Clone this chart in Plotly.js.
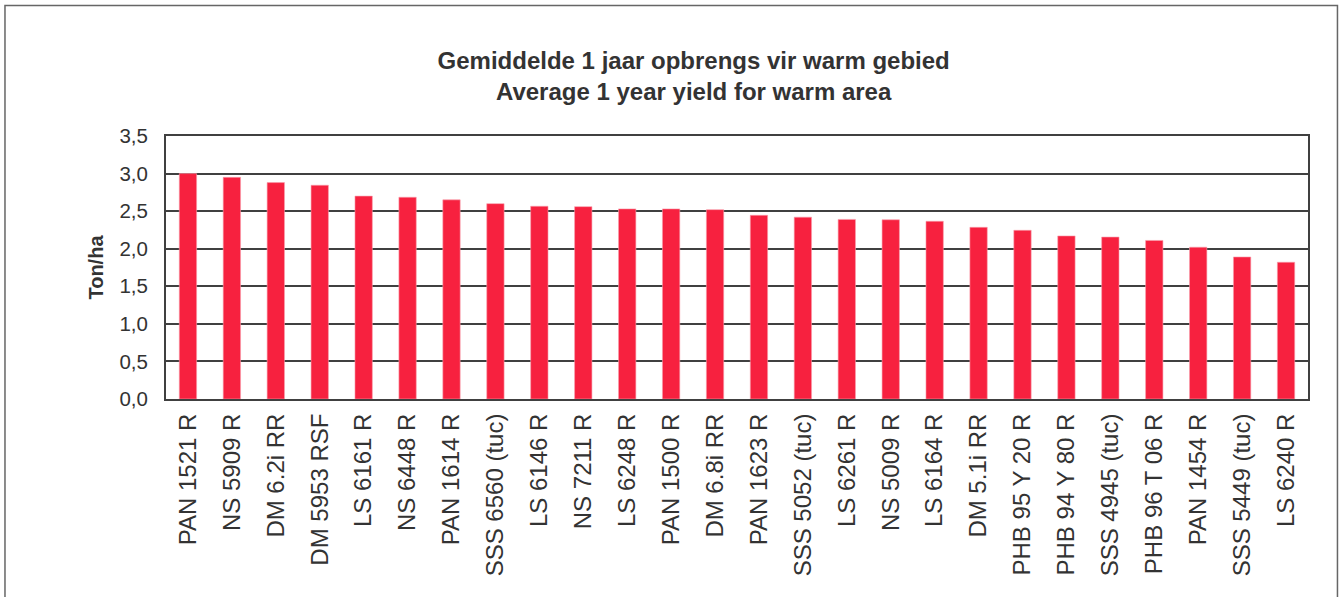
<!DOCTYPE html>
<html>
<head>
<meta charset="utf-8">
<script src="https://cdn.plot.ly/plotly-3.0.1.min.js"></script>
<style>
  html, body { margin: 0; padding: 0; background: #fff; }
  #chart { width: 1343px; height: 597px; }
</style>
</head>
<body>
<div id="chart"></div>
<script>
// cultivars, sorted by yield
const cultivars = [
  'PAN 1521 R', 'NS 5909 R', 'DM 6.2i RR', 'DM 5953 RSF', 'LS 6161 R', 'NS 6448 R',
  'PAN 1614 R', 'SSS 6560 (tuc)', 'LS 6146 R', 'NS 7211 R', 'LS 6248 R', 'PAN 1500 R',
  'DM 6.8i RR', 'PAN 1623 R', 'SSS 5052 (tuc)', 'LS 6261 R', 'NS 5009 R', 'LS 6164 R',
  'DM 5.1i RR', 'PHB 95 Y 20 R', 'PHB 94 Y 80 R', 'SSS 4945 (tuc)', 'PHB 96 T 06 R',
  'PAN 1454 R', 'SSS 5449 (tuc)', 'LS 6240 R'
];
const yieldTonHa = [
  3.00, 2.95, 2.88, 2.845, 2.70, 2.685,
  2.65, 2.60, 2.565, 2.56, 2.53, 2.53,
  2.52, 2.445, 2.42, 2.39, 2.385, 2.365,
  2.285, 2.245, 2.17, 2.155, 2.11,
  2.02, 1.89, 1.82
];
const yTicks = [0, 0.5, 1, 1.5, 2, 2.5, 3, 3.5];

const textColor = '#333333';
const lineColor = '#404040';

const trace = {
  type: 'bar',
  x: cultivars,
  y: yieldTonHa,
  marker: { color: '#F7213F', line: { color: '#F9A0AC', width: 0.6 } },
  hoverinfo: 'x+y'
};

const layout = {
  width: 1343,
  height: 597,
  margin: { l: 166, r: 35, t: 136, b: 198 },
  paper_bgcolor: '#fff',
  plot_bgcolor: '#fff',
  separators: ', ',
  font: { family: 'Liberation Sans, Arial, sans-serif', color: textColor },
  bargap: 0.605,
  showlegend: false,
  title: {
    text: '<b>Gemiddelde 1 jaar opbrengs vir warm gebied<br>Average 1 year yield for warm area</b>',
    font: { size: 24, color: textColor },
    xref: 'container', x: 0.5165, xanchor: 'center',
    yref: 'container', y: 0.885, yanchor: 'middle'
  },
  xaxis: {
    type: 'category',
    tickangle: -90,
    tickfont: { size: 24, color: textColor },
    ticks: '',
    ticklabelstandoff: 3,
    showline: true, linecolor: lineColor, linewidth: 2, mirror: true,
    showgrid: false
  },
  yaxis: {
    range: [0, 3.5],
    tickvals: yTicks,
    tickformat: '.1f',
    tickfont: { size: 20.5, color: textColor },
    ticks: '',
    ticklabelstandoff: 12,
    showline: true, linecolor: lineColor, linewidth: 2, mirror: true,
    showgrid: true, gridcolor: lineColor, gridwidth: 2,
    zeroline: false,
    title: { text: '<b>Ton/ha</b>', font: { size: 20, color: textColor }, standoff: 10 }
  },
  shapes: [{
    type: 'rect', xref: 'paper', yref: 'paper',
    x0: -0.141, x1: 1.0258, y0: -0.79, y1: 1.496,
    line: { color: '#666', width: 1.5 }, layer: 'below'
  }]
};

Plotly.newPlot('chart', [trace], layout, { displayModeBar: false, staticPlot: true });
</script>
</body>
</html>
